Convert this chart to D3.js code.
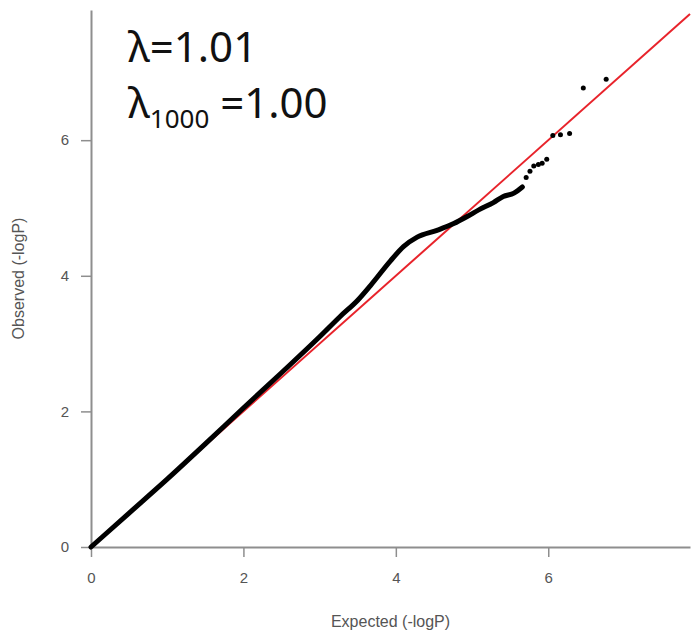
<!DOCTYPE html>
<html>
<head>
<meta charset="utf-8">
<script src="https://cdn.jsdelivr.net/npm/d3@7"></script>
<style>
  body { margin: 0; background: #fff; }
  svg { display: block; }
</style>
</head>
<body>
<div class="container"></div>
<script>
// dense part of the QQ curve (expected, observed -logP)
const curveExpected = [0, 0.5, 1.0, 1.5, 2.0, 2.5, 3.0, 3.27, 3.5, 3.67, 3.93, 4.1, 4.28, 4.54, 4.76, 4.93, 5.1, 5.28, 5.41, 5.55, 5.66];
const curveObserved = [0, 0.5, 1.0, 1.52, 2.05, 2.57, 3.1, 3.40, 3.64, 3.86, 4.22, 4.43, 4.57, 4.67, 4.77, 4.87, 4.98, 5.08, 5.17, 5.22, 5.31];
// sparse tail points
const tailExpected = [5.71, 5.76, 5.81, 5.87, 5.92, 5.98, 6.06, 6.16, 6.28, 6.46, 6.76];
const tailObserved = [5.45, 5.54, 5.62, 5.64, 5.66, 5.72, 6.07, 6.08, 6.10, 6.77, 6.90];
const xTicks = [0, 2, 4, 6];
const yTicks = [0, 2, 4, 6];
const xTitle = "Expected (-logP)";
const yTitle = "Observed (-logP)";
const lambdaText = "λ=1.01";
const lambda1000 = ["λ", "1000", " =1.00"];

const width = 693, height = 639;
const svg = d3.select(".container")
              .append("svg")
              .attr("width", width)
              .attr("height", height);

const x = d3.scaleLinear()
            .domain([0, 7.86])
            .range([91, 690]);
const y = d3.scaleLinear()
            .domain([0, 7.92])
            .range([547, 10]);

const axisColor = "#8e8e8e", textColor = "#555";
const axisFont = "'Liberation Sans', Arial, sans-serif";

const xAxis = svg.append("g")
                 .attr("transform", `translate(0,${y(0)})`)
                 .call(d3.axisBottom(x).tickValues(xTicks).tickSize(10).tickSizeOuter(0).tickPadding(15));
const yAxis = svg.append("g")
                 .attr("transform", `translate(${x(0)},0)`)
                 .call(d3.axisLeft(y).tickValues(yTicks).tickSize(10).tickSizeOuter(0).tickPadding(12));

[xAxis, yAxis].forEach(g => {
    g.select(".domain").attr("stroke", axisColor).attr("stroke-width", 2);
    g.selectAll(".tick line").attr("stroke", axisColor).attr("stroke-width", 1.5);
    g.selectAll(".tick text")
     .attr("fill", textColor)
     .style("font-family", axisFont)
     .style("font-size", "15px");
});

svg.append("text")
   .attr("x", (x.range()[0] + x.range()[1]) / 2)
   .attr("y", 627)
   .attr("text-anchor", "middle")
   .attr("fill", textColor)
   .style("font-family", axisFont)
   .style("font-size", "16px")
   .text(xTitle);

svg.append("text")
   .attr("transform", `translate(24,${(y.range()[0] + y.range()[1]) / 2}) rotate(-90)`)
   .attr("text-anchor", "middle")
   .attr("fill", textColor)
   .style("font-family", axisFont)
   .style("font-size", "16px")
   .text(yTitle);

// y = x reference line
const maxVal = x.domain()[1];
svg.append("line")
   .attr("x1", x(0)).attr("y1", y(0))
   .attr("x2", x(maxVal)).attr("y2", y(maxVal))
   .attr("stroke", "#e8232b")
   .attr("stroke-width", 2);

const line = d3.line()
               .x(d => x(d[0]))
               .y(d => y(d[1]))
               .curve(d3.curveMonotoneX);
svg.append("path")
   .datum(d3.zip(curveExpected, curveObserved))
   .attr("d", line)
   .attr("fill", "none")
   .attr("stroke", "#000")
   .attr("stroke-width", 5)
   .attr("stroke-linecap", "round");

svg.selectAll("circle.tail")
   .data(d3.zip(tailExpected, tailObserved))
   .join("circle")
   .attr("class", "tail")
   .attr("cx", d => x(d[0]))
   .attr("cy", d => y(d[1]))
   .attr("r", 2.5)
   .attr("fill", "#000");

const lamFont = "'Noto Sans', 'Open Sans', sans-serif";
svg.append("text")
   .attr("x", 128)
   .attr("y", 62)
   .attr("fill", "#111")
   .style("font-family", lamFont)
   .style("font-size", "42px")
   .text(lambdaText);

const lam2 = svg.append("text")
                .attr("x", 128)
                .attr("y", 118)
                .attr("fill", "#111")
                .style("font-family", lamFont)
                .style("font-size", "42px");
lam2.append("tspan").text(lambda1000[0]);
lam2.append("tspan").attr("dy", 10).style("font-size", "26px").text(lambda1000[1]);
lam2.append("tspan").attr("dy", -10).attr("xml:space", "preserve").text(lambda1000[2]);
</script>
</body>
</html>
